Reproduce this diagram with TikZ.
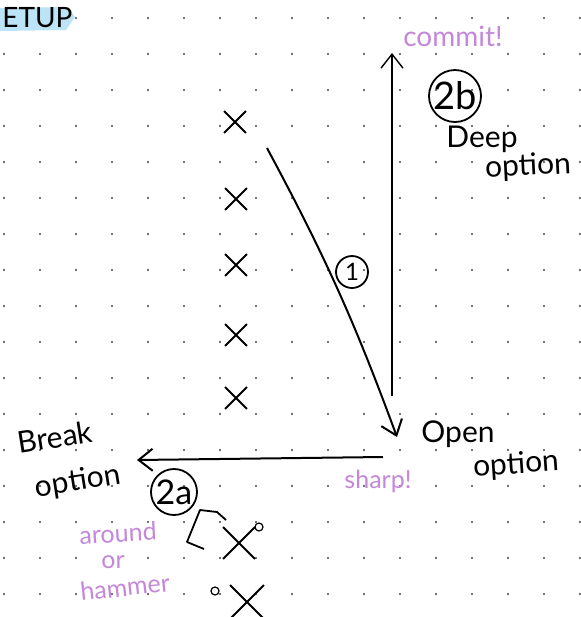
\documentclass[tikz,border=0pt]{standalone}
\usepackage{fontspec}
\setmainfont{Lato}
\usetikzlibrary{arrows.meta,shapes.misc}
\definecolor{lilac}{HTML}{C487D9}
\definecolor{marker}{HTML}{BDE3F7}

\begin{document}
\begin{tikzpicture}[x=0.5pt,y=-0.5pt,
    hand/.style={inner sep=0pt, font=\fontsize{15}{16}\selectfont},
    note/.style={inner sep=0pt, text=lilac, font=\fontsize{12.5}{13}\selectfont},
    numcirc/.style={draw, circle, line width=0.9pt, inner sep=0pt},
    xmark/.style={draw, cross out, line width=0.9pt, minimum size=10pt, inner sep=0pt},
    omark/.style={draw, circle, line width=0.6pt, minimum size=4pt, inner sep=0pt},
    move/.style={line width=1pt, -{Straight Barb[length=7pt,width=11pt]}}]
\useasboundingbox (0,0) rectangle (581,617);
\clip (0,0) rectangle (581,617);
%dotted paper
\foreach \i in {0,...,16}
  \foreach \j in {0,...,16}
    \fill[black!75] (4+36*\i,18+36*\j) circle (0.55pt);
%title
\fill[marker] (0,8) -- (68,7) -- (75,17) -- (66,30) -- (0,31) -- cycle;
\node[hand, anchor=base west, font=\fontsize{14}{15}\selectfont] (title) at (2,27) {ETUP};
% the row of crosses
\node[xmark] (x1) at (235,122) {};
\node[xmark] (x2) at (236,199) {};
\node[xmark] (x3) at (236,265) {};
\node[xmark] (x4) at (236,335) {};
\node[xmark] (x5) at (236,398) {};
% move 1 down to the open option
\coordinate (start) at (267,148);
\coordinate (open) at (397,437);
\draw[move] (start) to[bend left=4] (open);
\node[numcirc, minimum size=16pt, font=\fontsize{12}{12}\selectfont] (one) at (352,272) {1};
\node[hand] (openA) at (458,434) {Open};
\node[hand, rotate=4] (openB) at (516,465) {option};
\node[note] (sharp) at (378,481) {sharp!};
% move 2b up
\coordinate (deepfoot) at (392,396);
\coordinate (deep) at (392,53);
\draw[move, line width=0.7pt] (deepfoot) -- (deep);
\node[note, font=\fontsize{14}{15}\selectfont] (commit) at (453,36) {commit!};
\node[numcirc, minimum size=26pt, font=\fontsize{19}{19}\selectfont] (twob) at (455,96) {2b};
\node[hand] (deepA) at (482,139) {Deep};
\node[hand, rotate=3] (deepB) at (528,167) {option};
% move 2a to the left
\coordinate (breakfoot) at (383,457);
\coordinate (break) at (137,460);
\draw[move] (breakfoot) -- (break);
\node[hand, rotate=9] (breakA) at (55,437) {Break};
\node[hand, rotate=9] (breakB) at (78,482) {option};
\node[numcirc, minimum size=23pt, font=\fontsize{17}{17}\selectfont] (twoa) at (174,492) {2a};
\node[note, rotate=3] (around) at (118,533) {around};
\node[note] (or) at (113,562) {or};
\node[note, rotate=6] (hammer) at (125,587) {hammer};
% the shape of the stones below
\draw[line width=0.9pt, line join=round] (226,520) -- (217,512) -- (200,510) -- (187,542) -- (204,549);
\node[xmark, minimum size=15pt] (x6) at (239,543) {};
\node[omark] (o1) at (259,527) {};
\node[omark] (o2) at (215,591) {};
\node[xmark, minimum size=16pt] (x7) at (247,602) {};
\end{tikzpicture}
\end{document}
